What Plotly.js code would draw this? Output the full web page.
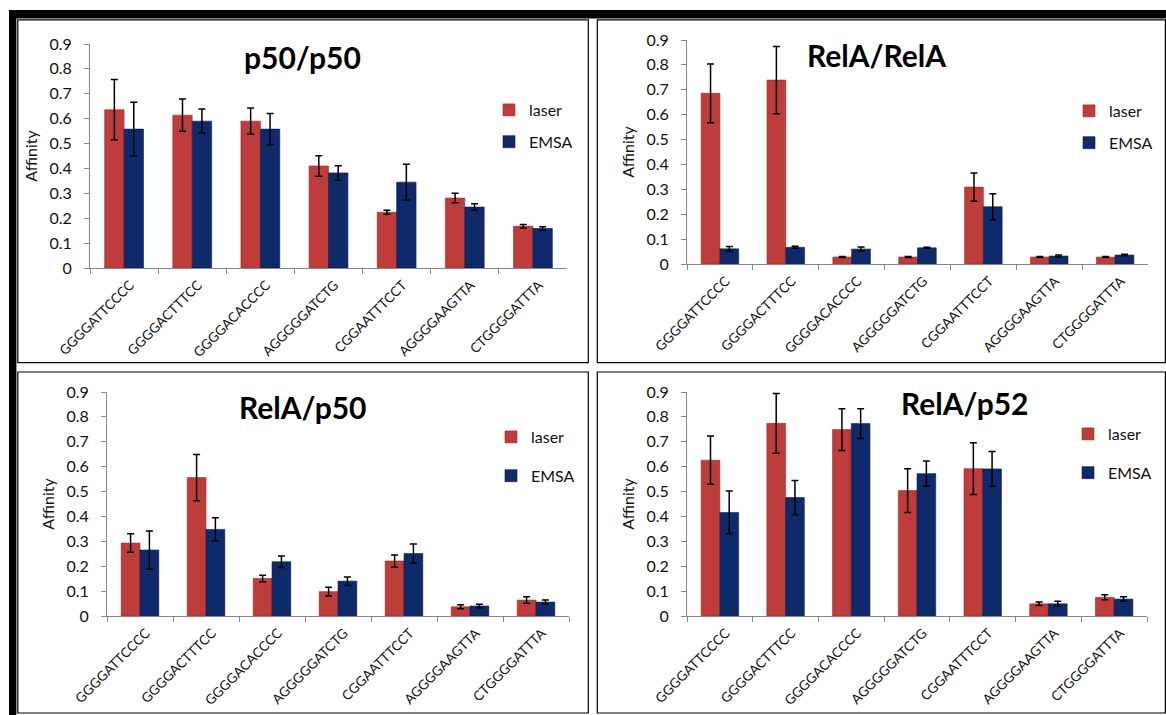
<!DOCTYPE html>
<html><head><meta charset="utf-8">
<script src="https://cdn.plot.ly/plotly-3.0.1.min.js"></script>
<style>html,body{margin:0;padding:0;background:#fff;}#chart{width:1166px;height:715px;}</style>
</head><body><div id="chart"></div>
<script>
// ---- data ----
const categories = ["GGGGATTCCCC","GGGGACTTTCC","GGGGACACCCC","AGGGGGATCTG","CGGAATTTCCT","AGGGGAAGTTA","CTGGGGATTTA"];
const seriesNames = ["laser","EMSA"];
const panelTitles = ["p50/p50","RelA/RelA","RelA/p50","RelA/p52"];
const yTitle = "Affinity";

const p50p50_laser     = [0.636,0.614,0.590,0.410,0.224,0.281,0.168];
const p50p50_laser_err = [0.121,0.065,0.053,0.041,0.008,0.019,0.007];
const p50p50_emsa      = [0.558,0.590,0.558,0.382,0.345,0.245,0.159];
const p50p50_emsa_err  = [0.108,0.049,0.063,0.029,0.072,0.013,0.007];

const relArelA_laser     = [0.686,0.739,0.028,0.028,0.309,0.028,0.028];
const relArelA_laser_err = [0.118,0.135,0.002,0.002,0.057,0.002,0.002];
const relArelA_emsa      = [0.061,0.067,0.060,0.065,0.230,0.032,0.036];
const relArelA_emsa_err  = [0.009,0.004,0.008,0.002,0.052,0.004,0.003];

const relAp50_laser     = [0.293,0.556,0.151,0.098,0.221,0.037,0.064];
const relAp50_laser_err = [0.037,0.093,0.013,0.018,0.024,0.008,0.013];
const relAp50_emsa      = [0.265,0.348,0.218,0.140,0.251,0.040,0.056];
const relAp50_emsa_err  = [0.077,0.047,0.023,0.017,0.038,0.007,0.008];

const relAp52_laser     = [0.626,0.774,0.749,0.504,0.592,0.049,0.075];
const relAp52_laser_err = [0.097,0.120,0.084,0.088,0.104,0.007,0.010];
const relAp52_emsa      = [0.416,0.476,0.773,0.572,0.591,0.049,0.068];
const relAp52_emsa_err  = [0.086,0.068,0.060,0.051,0.070,0.010,0.009];

const tickVals = [0,0.1,0.2,0.3,0.4,0.5,0.6,0.7,0.8,0.9];

// ---- layout helpers (pixels -> paper) ----
const W = 1166, H = 715;
const px = v => v / W;
const py = v => 1 - v / H;

const panels = [
  {laser:p50p50_laser, le:p50p50_laser_err, emsa:p50p50_emsa, ee:p50p50_emsa_err,
   x:[90,567], y:[268,44], title:[302,57], legend:[529,93], gap:7},
  {laser:relArelA_laser, le:relArelA_laser_err, emsa:relArelA_emsa, ee:relArelA_emsa_err,
   x:[687,1148], y:[264,40], title:[876,55], legend:[1109,94], gap:7},
  {laser:relAp50_laser, le:relAp50_laser_err, emsa:relAp50_emsa, ee:relAp50_emsa_err,
   x:[107,569], y:[616,392], title:[303,407], legend:[531,420], gap:14},
  {laser:relAp52_laser, le:relAp52_laser_err, emsa:relAp52_emsa, ee:relAp52_emsa_err,
   x:[687,1147], y:[616,392], title:[965,403], legend:[1108,417], gap:14}
];

const RED = '#be3c3a', BLUE = '#0f2a6b';
const BW = 0.285;
const fontFam = 'Lato, "Open Sans", sans-serif';
const TXT = '#111';

const data = [];
const layout = {
  width: W, height: H, autosize: false,
  margin: {l:0, r:0, t:0, b:0},
  paper_bgcolor: '#fff', plot_bgcolor: '#fff',
  showlegend: true,
  barmode: 'group',
  font: {family: fontFam, color: TXT},
  annotations: [], shapes: []
};

panels.forEach((p, i) => {
  const n = i === 0 ? '' : String(i + 1);
  const xa = 'x' + n, ya = 'y' + n;
  const lg = 'legend' + n;
  const errStyle = {type:'data', visible:true, color:'#000', thickness:1.5, width:3.5};
  data.push({
    type:'bar', name: seriesNames[0], x: categories, y: p.laser,
    xaxis: xa, yaxis: ya, legend: lg, legendgroup: 'a'+i,
    offset: -BW, width: BW,
    marker: {color: RED, line: {color: '#9a2d2b', width: 0.6}},
    error_y: Object.assign({array: p.le}, errStyle)
  });
  data.push({
    type:'bar', name: seriesNames[1], x: categories, y: p.emsa,
    xaxis: xa, yaxis: ya, legend: lg, legendgroup: 'b'+i,
    offset: 0, width: BW,
    marker: {color: BLUE, line: {color: '#0a1d4d', width: 0.6}},
    error_y: Object.assign({array: p.ee}, errStyle)
  });
  layout['xaxis' + n] = {
    domain: [px(p.x[0]), px(p.x[1])], anchor: ya,
    type: 'category', range: [-0.5, 6.5],
    showline: true, linecolor: '#878787', linewidth: 1,
    ticks: 'outside', tickson: 'boundaries', ticklen: 5, tickcolor: '#878787',
    tickangle: -45, ticklabelshift: 6, ticklabelstandoff: 3,
    tickfont: {size: 13.5, family: fontFam, color: TXT},
    showgrid: false, zeroline: false, fixedrange: true
  };
  layout['yaxis' + n] = {
    domain: [py(p.y[0]), py(p.y[1])], anchor: xa,
    range: [0, 0.9], tickvals: tickVals,
    showline: true, linecolor: '#878787', linewidth: 1,
    ticks: 'outside', ticklen: 5, tickcolor: '#878787',
    ticklabelstandoff: 9,
    tickfont: {size: 16, family: fontFam, color: TXT},
    title: {text: yTitle, font: {size: 16, family: fontFam, color: TXT}, standoff: 7},
    showgrid: false, zeroline: false, fixedrange: true
  };
  layout[lg] = {
    x: px(p.legend[0] - 40), y: py(p.legend[1]), xanchor: 'left', yanchor: 'top',
    bgcolor: 'rgba(0,0,0,0)', borderwidth: 0,
    font: {size: 16, family: fontFam, color: TXT},
    traceorder: 'grouped', tracegroupgap: p.gap + 1
  };
  layout.annotations.push({
    xref: 'paper', yref: 'paper', x: px(p.title[0]), y: py(p.title[1]),
    xanchor: 'center', yanchor: 'middle', showarrow: false,
    text: '<b>' + panelTitles[i] + '</b>',
    font: {size: 30, family: fontFam, color: '#000'}
  });
});

// frames
const rect = (x0, y0, x1, y1, fill, lw) => ({
  type: 'rect', xref: 'paper', yref: 'paper', layer: 'below',
  x0: px(x0), x1: px(x1), y0: py(y0), y1: py(y1),
  fillcolor: fill || 'rgba(0,0,0,0)', line: {color: '#000', width: lw}
});
layout.shapes.push(rect(9, 10, 1166, 18.4, '#000', 0));
layout.shapes.push(rect(9, 10, 16.4, 715, '#000', 0));
layout.shapes.push(rect(17.8, 19.8, 588.3, 362.7, null, 1.2));
layout.shapes.push(rect(597.3, 19.8, 1165.4, 362.7, null, 1.2));
layout.shapes.push(rect(17.8, 372, 588.3, 713, null, 1.2));
layout.shapes.push(rect(597.3, 372, 1165.4, 713, null, 1.2));

Plotly.newPlot('chart', data, layout, {displayModeBar: false, staticPlot: true});
</script>
</body></html>
